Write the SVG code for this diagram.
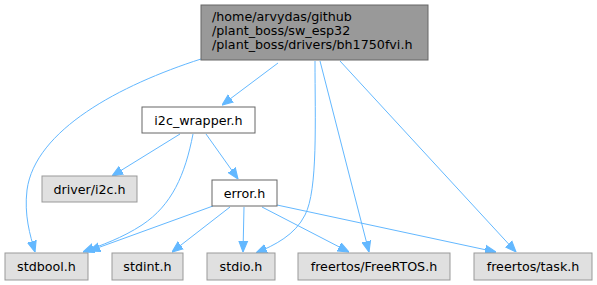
<svg xmlns="http://www.w3.org/2000/svg" width="597" height="285" viewBox="0 0 597 285">
  <style>
    .n text { font-family: "DejaVu Sans", "Liberation Sans", sans-serif; font-size: 12.7px; fill: #000; }
    .main rect { fill: #999999; stroke: #666666; }
    .local rect { fill: #ffffff; stroke: #666666; }
    .sys rect { fill: #e0e0e0; stroke: #999999; }
    .e path { fill: none; stroke: #63b8ff; stroke-width: 1; }
  </style>
  <defs>
    <marker id="ah" viewBox="0 0 10 10" refX="10" refY="5" markerWidth="11" markerHeight="11" markerUnits="userSpaceOnUse" orient="auto">
      <path d="M0,1 L10,5 L0,9 Z" fill="#63b8ff" stroke="#63b8ff"/>
    </marker>
  </defs>

  <g id="edges" class="e">
    <path d="M201,59 C120,85 35,130 27,190 C24,215 30,235 35,252" marker-end="url(#ah)"/>
    <path d="M278,63 L222,105" marker-end="url(#ah)"/>
    <path d="M315,61 C315,120 318,190 305,215 C295,235 275,245 256,253" marker-end="url(#ah)"/>
    <path d="M320,61 L369,252" marker-end="url(#ah)"/>
    <path d="M340,61 L516,252" marker-end="url(#ah)"/>
    <path d="M180,134 L112,176" marker-end="url(#ah)"/>
    <path d="M193,134 C185,175 172,205 142,225 C122,238 102,245 83,252" marker-end="url(#ah)"/>
    <path d="M206,134 L238,179" marker-end="url(#ah)"/>
    <path d="M213,206 L89,251" marker-end="url(#ah)"/>
    <path d="M230,207 L172,252" marker-end="url(#ah)"/>
    <path d="M244,207 L243,252" marker-end="url(#ah)"/>
    <path d="M262,207 L349,252" marker-end="url(#ah)"/>
    <path d="M277,205 L496,252" marker-end="url(#ah)"/>
  </g>

  <g id="node-main" class="n main">
    <rect x="201" y="5" width="227" height="55"/>
    <text x="212" y="21">/home/arvydas/github</text>
    <text x="212" y="35">/plant_boss/sw_esp32</text>
    <text x="212" y="49">/plant_boss/drivers/bh1750fvi.h</text>
  </g>
  <g id="node-i2c-wrapper" class="n local">
    <rect x="142" y="107" width="113" height="26"/>
    <text x="198.5" y="124.5" text-anchor="middle">i2c_wrapper.h</text>
  </g>
  <g id="node-driver-i2c" class="n sys">
    <rect x="42" y="176" width="95" height="26"/>
    <text x="89.5" y="193.5" text-anchor="middle">driver/i2c.h</text>
  </g>
  <g id="node-error" class="n local">
    <rect x="212" y="180" width="65" height="26"/>
    <text x="244.5" y="197.5" text-anchor="middle">error.h</text>
  </g>
  <g id="node-stdbool" class="n sys">
    <rect x="5" y="253" width="83" height="27"/>
    <text x="46.5" y="271" text-anchor="middle">stdbool.h</text>
  </g>
  <g id="node-stdint" class="n sys">
    <rect x="112" y="253" width="71" height="27"/>
    <text x="147.5" y="271" text-anchor="middle">stdint.h</text>
  </g>
  <g id="node-stdio" class="n sys">
    <rect x="207" y="253" width="68" height="27"/>
    <text x="241" y="271" text-anchor="middle">stdio.h</text>
  </g>
  <g id="node-freertos" class="n sys">
    <rect x="298" y="253" width="152" height="27"/>
    <text x="374" y="271" text-anchor="middle">freertos/FreeRTOS.h</text>
  </g>
  <g id="node-task" class="n sys">
    <rect x="474" y="253" width="118" height="27"/>
    <text x="533" y="271" text-anchor="middle">freertos/task.h</text>
  </g>
</svg>
